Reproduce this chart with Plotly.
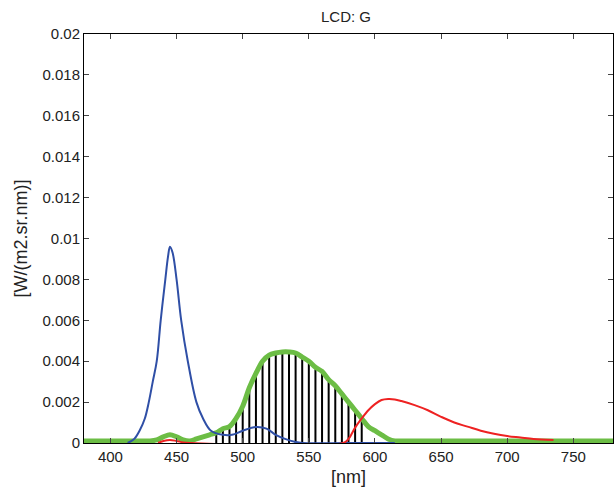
import plotly.graph_objects as go

# spectral radiance, LCD green channel measurement
blue_nm = [413, 418, 422, 426, 429, 432, 435, 438, 441.5, 443.5, 445, 447, 450, 453.5,
           458.5, 465, 470, 476, 485, 492, 500, 510, 518, 525, 532, 540, 545, 580, 615]
blue_val = [0, 0.0002, 0.0006, 0.0012, 0.002, 0.003, 0.004, 0.006, 0.008, 0.0091, 0.0096,
            0.0093, 0.008, 0.006, 0.004, 0.002, 0.0012, 0.0006, 0.0004, 0.0004, 0.0006,
            0.00078, 0.0007, 0.0004, 0.0002, 0.00005, 0, 0, 0]

red_nm = [436, 440, 445, 450, 455, 460, 576, 580, 585, 590, 595, 600, 605, 610, 615, 620,
          630, 640, 650, 660, 670, 680, 690, 700, 710, 720, 735]
red_val = [0, 0.0001, 0.00015, 0.0001, 0.00003, 0, 0, 0.0002, 0.00075, 0.0012, 0.0016,
           0.0019, 0.0021, 0.00215, 0.00213, 0.00205, 0.00185, 0.0016, 0.00128, 0.001,
           0.0008, 0.0006, 0.00045, 0.00034, 0.00027, 0.0002, 0.00015]

green_nm = [380, 390, 400, 410, 420, 430, 435, 440, 445, 450, 455, 460, 465, 470, 475, 480,
            485, 490, 495, 500, 505, 510, 515, 520, 525, 530, 535, 540, 545, 550, 555, 560,
            565, 570, 575, 580, 585, 590, 595, 600, 605, 610, 615, 620, 650, 700, 750, 780]
green_val = [0.0001, 0.0001, 0.0001, 0.0001, 0.0001, 0.0001, 0.00015, 0.0003, 0.0004,
             0.0003, 0.00015, 0.0001, 0.0002, 0.0003, 0.0004, 0.0005, 0.0007, 0.0008,
             0.0012, 0.0018, 0.0027, 0.0034, 0.0040, 0.0043, 0.0044, 0.00445, 0.00445,
             0.0044, 0.0042, 0.0040, 0.0037, 0.0035, 0.0031, 0.0028, 0.0024, 0.0020,
             0.0016, 0.0012, 0.0008, 0.0006, 0.0004, 0.0002, 0.0001, 0.0001, 0.0001,
             0.0001, 0.0001, 0.0001]

# sampled bars under the green curve
stem_nm = list(range(480, 595, 5))
stem_val = [0.0004, 0.0006, 0.0007, 0.0011, 0.0017, 0.0026, 0.0033, 0.0039, 0.0042, 0.0043,
            0.0044, 0.0044, 0.0043, 0.0041, 0.0039, 0.0036, 0.0034, 0.003, 0.0027, 0.0023,
            0.0019, 0.0015, 0.0011]

x_ticks = [400, 450, 500, 550, 600, 650, 700, 750]
y_ticks = [0, 0.002, 0.004, 0.006, 0.008, 0.01, 0.012, 0.014, 0.016, 0.018, 0.02]
y_labels = ["0", "0.002", "0.004", "0.006", "0.008", "0.01", "0.012", "0.014", "0.016", "0.018", "0.02"]

sx, sy = [], []
for w, v in zip(stem_nm, stem_val):
    sx += [w, w, None]
    sy += [0, v, None]

fig = go.Figure()
fig.add_trace(go.Scatter(x=sx, y=sy, mode="lines", line=dict(color="black", width=2)))
fig.add_trace(go.Scatter(x=green_nm, y=green_val, mode="lines",
                         line=dict(color="#6cbd45", width=5, shape="spline")))
fig.add_trace(go.Scatter(x=blue_nm, y=blue_val, mode="lines",
                         line=dict(color="#2f4fa6", width=2, shape="spline")))
fig.add_trace(go.Scatter(x=red_nm, y=red_val, mode="lines",
                         line=dict(color="#ee2222", width=2, shape="spline")))

fig.update_layout(
    width=616, height=488,
    margin=dict(l=84, r=3, t=34, b=45),
    paper_bgcolor="white", plot_bgcolor="white",
    showlegend=False,
    font=dict(family="Liberation Sans, Arial, sans-serif", size=15, color="#222222"),
    title=dict(text="LCD: G", x=346 / 616, xanchor="center", xref="container",
               y=1 - 17 / 488, yanchor="middle", yref="container",
               font=dict(size=15, color="#222222")),
)
fig.update_xaxes(range=[380, 780], tickvals=x_ticks, ticks="inside", ticklen=5,
                 showline=True, linecolor="black", linewidth=1, mirror="ticks",
                 showgrid=False, zeroline=False, automargin=False,
                 title=dict(text="[nm]", standoff=6))
fig.update_yaxes(range=[0, 0.02], tickvals=y_ticks, ticktext=y_labels, ticks="inside", ticklen=5,
                 showline=True, linecolor="black", linewidth=1, mirror="ticks",
                 showgrid=False, zeroline=False, automargin=False,
                 title=dict(text="[W/(m2.sr.nm)]", standoff=10))

# drop the page's default body margin so the figure sits at the top-left corner
fig.write_html("out.html", config={"displayModeBar": False},
               post_script="document.body.style.margin='0';")
